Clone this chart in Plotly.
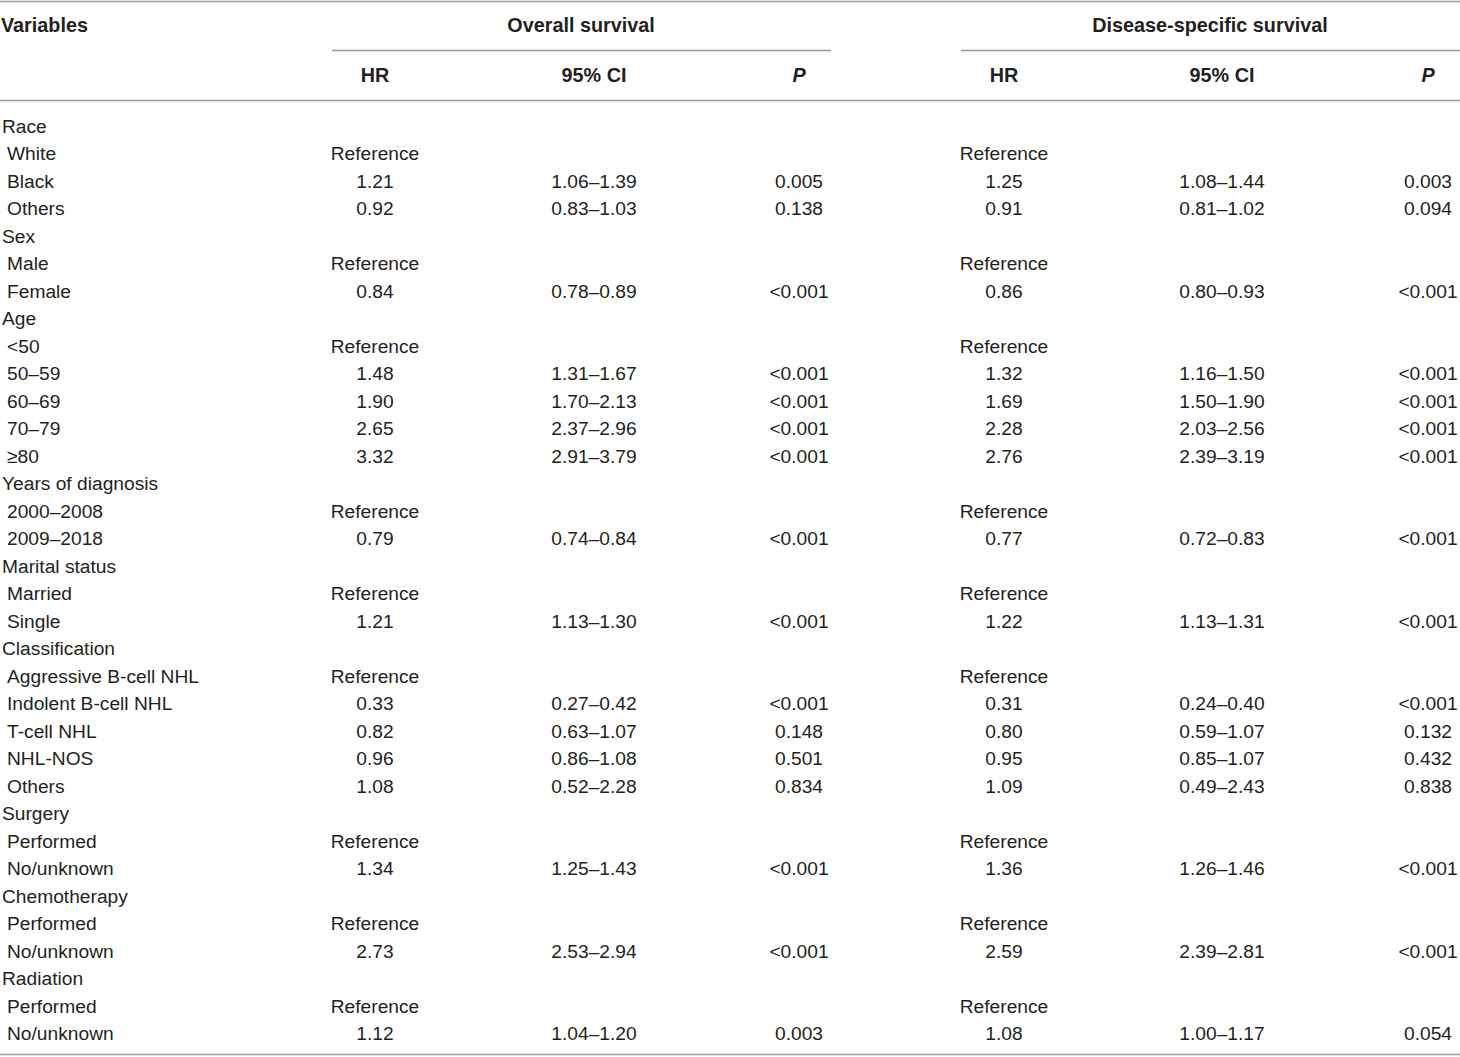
import plotly.graph_objects as go

# ---------------- data ----------------
variables = ["Race", "White", "Black", "Others",
             "Sex", "Male", "Female",
             "Age", "<50", "50–59", "60–69", "70–79", "≥80",
             "Years of diagnosis", "2000–2008", "2009–2018",
             "Marital status", "Married", "Single",
             "Classification", "Aggressive B-cell NHL", "Indolent B-cell NHL", "T-cell NHL", "NHL-NOS", "Others",
             "Surgery", "Performed", "No/unknown",
             "Chemotherapy", "Performed", "No/unknown",
             "Radiation", "Performed", "No/unknown"]
level = [0, 1, 1, 1,
         0, 1, 1,
         0, 1, 1, 1, 1, 1,
         0, 1, 1,
         0, 1, 1,
         0, 1, 1, 1, 1, 1,
         0, 1, 1,
         0, 1, 1,
         0, 1, 1]

os_hr = ["", "Reference", "1.21", "0.92",
         "", "Reference", "0.84",
         "", "Reference", "1.48", "1.90", "2.65", "3.32",
         "", "Reference", "0.79",
         "", "Reference", "1.21",
         "", "Reference", "0.33", "0.82", "0.96", "1.08",
         "", "Reference", "1.34",
         "", "Reference", "2.73",
         "", "Reference", "1.12"]
os_ci = ["", "", "1.06–1.39", "0.83–1.03",
         "", "", "0.78–0.89",
         "", "", "1.31–1.67", "1.70–2.13", "2.37–2.96", "2.91–3.79",
         "", "", "0.74–0.84",
         "", "", "1.13–1.30",
         "", "", "0.27–0.42", "0.63–1.07", "0.86–1.08", "0.52–2.28",
         "", "", "1.25–1.43",
         "", "", "2.53–2.94",
         "", "", "1.04–1.20"]
os_p = ["", "", "0.005", "0.138",
        "", "", "<0.001",
        "", "", "<0.001", "<0.001", "<0.001", "<0.001",
        "", "", "<0.001",
        "", "", "<0.001",
        "", "", "<0.001", "0.148", "0.501", "0.834",
        "", "", "<0.001",
        "", "", "<0.001",
        "", "", "0.003"]
dss_hr = ["", "Reference", "1.25", "0.91",
          "", "Reference", "0.86",
          "", "Reference", "1.32", "1.69", "2.28", "2.76",
          "", "Reference", "0.77",
          "", "Reference", "1.22",
          "", "Reference", "0.31", "0.80", "0.95", "1.09",
          "", "Reference", "1.36",
          "", "Reference", "2.59",
          "", "Reference", "1.08"]
dss_ci = ["", "", "1.08–1.44", "0.81–1.02",
          "", "", "0.80–0.93",
          "", "", "1.16–1.50", "1.50–1.90", "2.03–2.56", "2.39–3.19",
          "", "", "0.72–0.83",
          "", "", "1.13–1.31",
          "", "", "0.24–0.40", "0.59–1.07", "0.85–1.07", "0.49–2.43",
          "", "", "1.26–1.46",
          "", "", "2.39–2.81",
          "", "", "1.00–1.17"]
dss_p = ["", "", "0.003", "0.094",
         "", "", "<0.001",
         "", "", "<0.001", "<0.001", "<0.001", "<0.001",
         "", "", "<0.001",
         "", "", "<0.001",
         "", "", "<0.001", "0.132", "0.432", "0.838",
         "", "", "<0.001",
         "", "", "<0.001",
         "", "", "0.054"]

group_headers = ["Overall survival", "Disease-specific survival"]
col_headers = ["HR", "95% CI", "<i>P</i>", "HR", "95% CI", "<i>P</i>"]

# ---------------- layout constants ----------------
W, H = 1460, 1057
ROW0, ROW_H = 128, 27.5
FONT = "Liberation Sans, Arial, Helvetica, sans-serif"
FS = 19.2
FS_B = 19.8
TXT = "#231f20"
LINE = "#9d9d9d"

col_x = [375, 594, 799, 1004, 1222, 1428]
group_x = [581, 1210]
group_span = [(332, 831), (961, 1460)]

rows_y = [ROW0 + ROW_H * i for i in range(len(variables))]
var_x = [2 if lv == 0 else 7 for lv in level]

fig = go.Figure()

def text_trace(xs, ys, texts, pos, bold=False):
    fig.add_trace(go.Scatter(
        x=xs, y=ys, text=[f"<b>{t}</b>" if (bold and t) else t for t in texts],
        mode="text", textposition=pos,
        textfont=dict(family=FONT, size=FS_B if bold else FS, color=TXT),
        hoverinfo="skip", showlegend=False, cliponaxis=False))

# variable column
text_trace(var_x, rows_y, variables, "middle right")
# value columns
for cx, vals in zip(col_x, [os_hr, os_ci, os_p, dss_hr, dss_ci, dss_p]):
    text_trace([cx] * len(vals), rows_y, vals, "middle center")

# headers
HEAD1_Y, HEAD2_Y = 27.5, 77.5
text_trace([1], [HEAD1_Y], ["Variables"], "middle right", bold=True)
text_trace(group_x, [HEAD1_Y] * 2, group_headers, "middle center", bold=True)
text_trace(col_x, [HEAD2_Y] * len(col_x), col_headers, "middle center", bold=True)

# rules
shapes = [
    dict(type="line", x0=0, x1=W, y0=1.5, y1=1.5),
    dict(type="line", x0=0, x1=W, y0=100.5, y1=100.5),
    dict(type="line", x0=0, x1=W, y0=1054.5, y1=1054.5),
]
for a, b in group_span:
    shapes.append(dict(type="line", x0=a, x1=b, y0=50.5, y1=50.5))
for s in shapes:
    s.update(xref="x", yref="y", line=dict(color=LINE, width=1.6), layer="above")

fig.update_layout(
    width=W, height=H, margin=dict(l=0, r=0, t=0, b=0),
    paper_bgcolor="white", plot_bgcolor="white",
    xaxis=dict(range=[0, W], visible=False, fixedrange=True),
    yaxis=dict(range=[H, 0], visible=False, fixedrange=True),
    shapes=shapes,
)

fig.write_html("out.html", config={"displayModeBar": False},
               post_script="document.body.style.margin='0';document.body.style.overflow='hidden';")
